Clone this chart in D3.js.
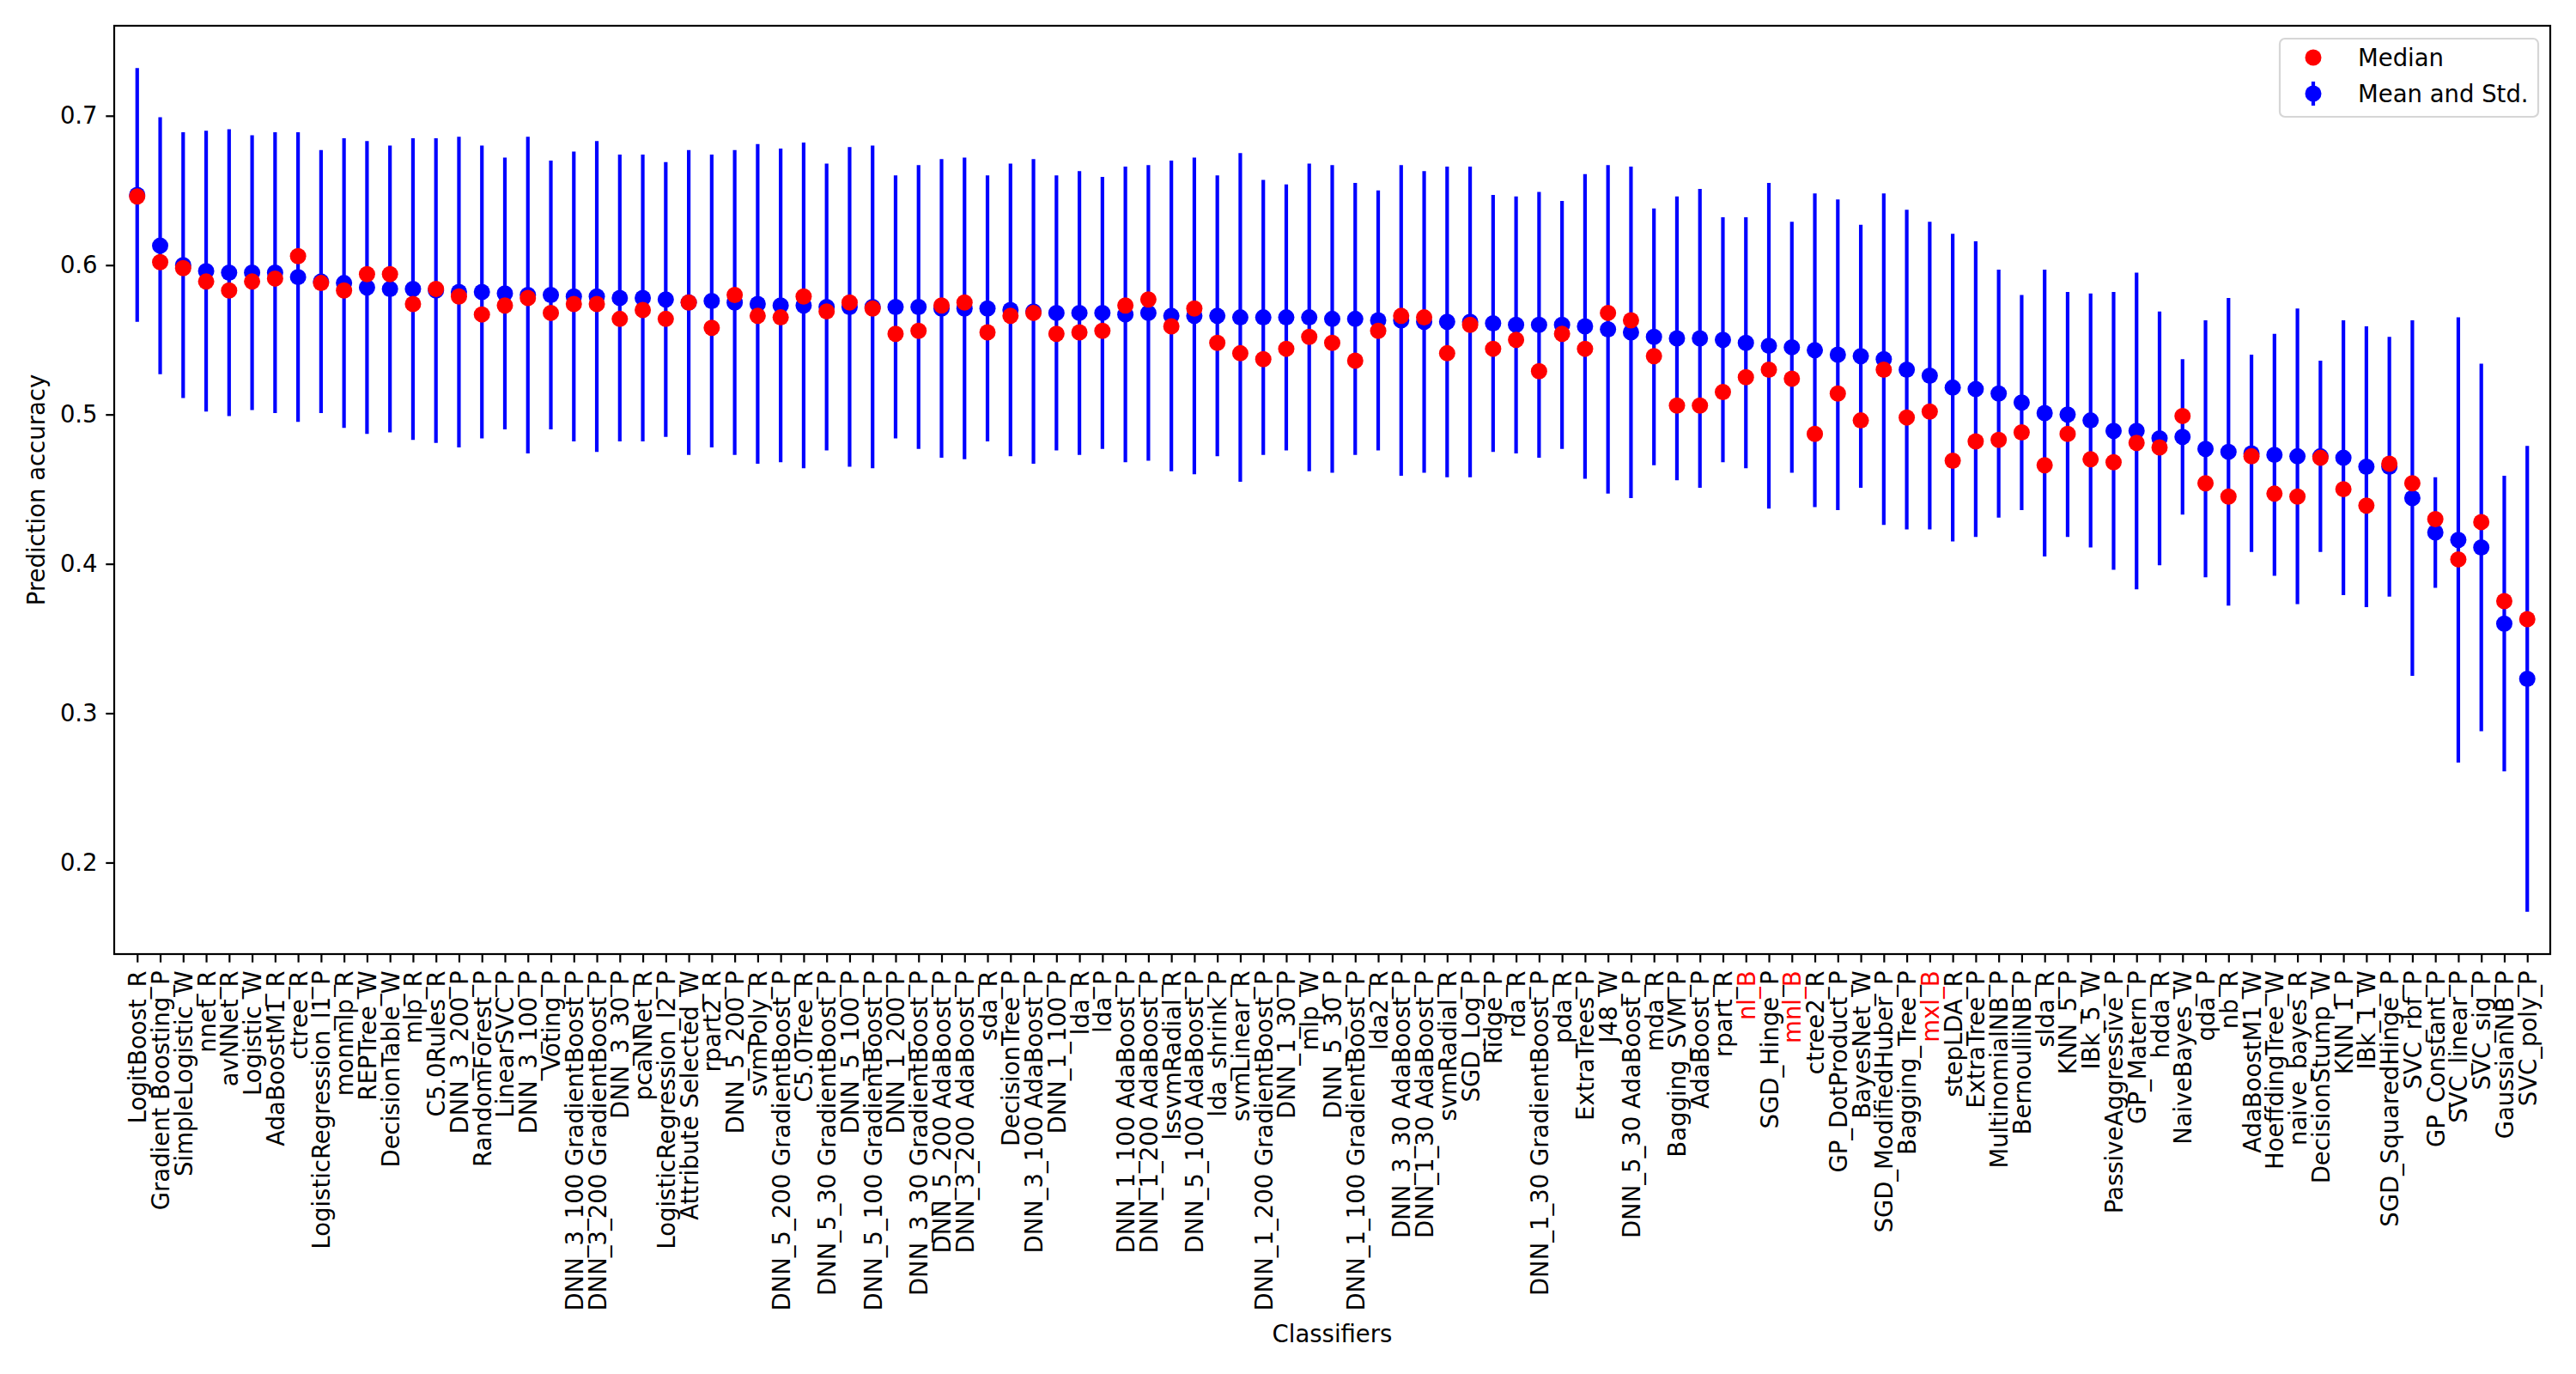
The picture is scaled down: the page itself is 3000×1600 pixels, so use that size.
<!DOCTYPE html>
<html>
<head>
<meta charset="utf-8">
<script src="https://cdn.jsdelivr.net/npm/d3@7"></script>
<style>
  body { margin: 0; background: #fff; }
  text { font-family: "DejaVu Sans", sans-serif; }
</style>
</head>
<body>
<div class="chart"></div>
<script>
// classifiers, sorted by mean accuracy
const classifiers = [
  'LogitBoost_R', 'Gradient Boosting_P', 'SimpleLogistic_W', 'nnet_R', 'avNNet_R',
  'Logistic_W', 'AdaBoostM1_R', 'ctree_R', 'LogisticRegression_l1_P', 'monmlp_R',
  'REPTree_W', 'DecisionTable_W', 'mlp_R', 'C5.0Rules_R', 'DNN_3_200_P',
  'RandomForest_P', 'LinearSVC_P', 'DNN_3_100_P', 'Voting_P', 'DNN_3_100 GradientBoost_P',
  'DNN_3_200 GradientBoost_P', 'DNN_3_30_P', 'pcaNNet_R', 'LogisticRegression_l2_P', 'Attribute Selected_W',
  'rpart2_R', 'DNN_5_200_P', 'svmPoly_R', 'DNN_5_200 GradientBoost_P', 'C5.0Tree_R',
  'DNN_5_30 GradientBoost_P', 'DNN_5_100_P', 'DNN_5_100 GradientBoost_P', 'DNN_1_200_P', 'DNN_3_30 GradientBoost_P',
  'DNN_5_200 AdaBoost_P', 'DNN_3_200 AdaBoost_P', 'sda_R', 'DecisionTree_P', 'DNN_3_100 AdaBoost_P',
  'DNN_1_100_P', 'lda_R', 'lda_P', 'DNN_1_100 AdaBoost_P', 'DNN_1_200 AdaBoost_P',
  'lssvmRadial_R', 'DNN_5_100 AdaBoost_P', 'lda_shrink_P', 'svmLinear_R', 'DNN_1_200 GradientBoost_P',
  'DNN_1_30_P', 'mlp_W', 'DNN_5_30_P', 'DNN_1_100 GradientBoost_P', 'lda2_R',
  'DNN_3_30 AdaBoost_P', 'DNN_1_30 AdaBoost_P', 'svmRadial_R', 'SGD_Log_P', 'Ridge_P',
  'rda_R', 'DNN_1_30 GradientBoost_P', 'pda_R', 'ExtraTrees_P', 'J48_W',
  'DNN_5_30 AdaBoost_P', 'mda_R', 'Bagging_SVM_P', 'AdaBoost_P', 'rpart_R',
  'nl_B', 'SGD_Hinge_P', 'mnl_B', 'ctree2_R', 'GP_DotProduct_P',
  'BayesNet_W', 'SGD_ModifiedHuber_P', 'Bagging_Tree_P', 'mxl_B', 'stepLDA_R',
  'ExtraTree_P', 'MultinomialNB_P', 'BernoulliNB_P', 'slda_R', 'KNN_5_P',
  'IBk_5_W', 'PassiveAggressive_P', 'GP_Matern_P', 'hdda_R', 'NaiveBayes_W',
  'qda_P', 'nb_R', 'AdaBoostM1_W', 'HoeffdingTree_W', 'naive_bayes_R',
  'DecisionStump_W', 'KNN_1_P', 'IBk_1_W', 'SGD_SquaredHinge_P', 'SVC_rbf_P',
  'GP_Constant_P', 'SVC_linear_P', 'SVC_sig_P', 'GaussianNB_P', 'SVC_poly_P'
];

const meanAcc = [
  0.647, 0.613, 0.600, 0.596, 0.595, 0.595, 0.595, 0.592, 0.589, 0.588,
  0.585, 0.584, 0.584, 0.583, 0.582, 0.582, 0.581, 0.580, 0.580, 0.579,
  0.579, 0.578, 0.578, 0.577, 0.575, 0.576, 0.575, 0.574, 0.573, 0.573,
  0.572, 0.572, 0.572, 0.572, 0.572, 0.571, 0.571, 0.571, 0.570, 0.569,
  0.568, 0.568, 0.568, 0.567, 0.568, 0.566, 0.566, 0.566, 0.565, 0.565,
  0.565, 0.565, 0.564, 0.564, 0.563, 0.563, 0.562, 0.562, 0.562, 0.561,
  0.560, 0.560, 0.560, 0.559, 0.557, 0.555, 0.552, 0.551, 0.551, 0.550,
  0.548, 0.546, 0.545, 0.543, 0.540, 0.539, 0.537, 0.530, 0.526, 0.518,
  0.517, 0.514, 0.508, 0.501, 0.500, 0.496, 0.489, 0.489, 0.484, 0.485,
  0.477, 0.475, 0.474, 0.473, 0.472, 0.472, 0.471, 0.465, 0.465, 0.444,
  0.421, 0.416, 0.411, 0.360, 0.323
];

const stdAcc = [
  0.085, 0.086, 0.089, 0.094, 0.096, 0.092, 0.094, 0.097, 0.088, 0.097,
  0.098, 0.096, 0.101, 0.102, 0.104, 0.098, 0.091, 0.106, 0.090, 0.097,
  0.104, 0.096, 0.096, 0.092, 0.102, 0.098, 0.102, 0.107, 0.105, 0.109,
  0.096, 0.107, 0.108, 0.088, 0.095, 0.100, 0.101, 0.089, 0.098, 0.102,
  0.092, 0.095, 0.091, 0.099, 0.099, 0.104, 0.106, 0.094, 0.110, 0.092,
  0.089, 0.103, 0.103, 0.091, 0.087, 0.104, 0.101, 0.104, 0.104, 0.086,
  0.086, 0.089, 0.083, 0.102, 0.110, 0.111, 0.086, 0.095, 0.100, 0.082,
  0.084, 0.109, 0.084, 0.105, 0.104, 0.088, 0.111, 0.107, 0.103, 0.103,
  0.099, 0.083, 0.072, 0.096, 0.082, 0.085, 0.093, 0.106, 0.085, 0.052,
  0.086, 0.103, 0.066, 0.081, 0.099, 0.064, 0.092, 0.094, 0.087, 0.119,
  0.037, 0.149, 0.123, 0.099, 0.156
];

const medianAcc = [
  0.646, 0.602, 0.598, 0.589, 0.583, 0.589, 0.591, 0.606, 0.588, 0.583,
  0.594, 0.594, 0.574, 0.584, 0.579, 0.567, 0.573, 0.578, 0.568, 0.574,
  0.574, 0.564, 0.570, 0.564, 0.575, 0.558, 0.580, 0.566, 0.565, 0.579,
  0.569, 0.575, 0.571, 0.554, 0.556, 0.573, 0.575, 0.555, 0.566, 0.568,
  0.554, 0.555, 0.556, 0.573, 0.577, 0.559, 0.571, 0.548, 0.541, 0.537,
  0.544, 0.552, 0.548, 0.536, 0.556, 0.566, 0.565, 0.541, 0.560, 0.544,
  0.550, 0.529, 0.554, 0.544, 0.568, 0.563, 0.539, 0.506, 0.506, 0.515,
  0.525, 0.530, 0.524, 0.487, 0.514, 0.496, 0.530, 0.498, 0.502, 0.469,
  0.482, 0.483, 0.488, 0.466, 0.487, 0.470, 0.468, 0.481, 0.478, 0.499,
  0.454, 0.445, 0.472, 0.447, 0.445, 0.471, 0.450, 0.439, 0.467, 0.454,
  0.430, 0.403, 0.428, 0.375, 0.363
];

// labels printed in red
const highlighted = ['nl_B', 'mnl_B', 'mxl_B'];

const yTicks = [0.2, 0.3, 0.4, 0.5, 0.6, 0.7];

const width = 3000;
const height = 1600;
const margin = { left: 133, right: 30, top: 30, bottom: 489 };
const fontSize = 27.5;
const tickLen = 9.7;

const data = classifiers.map((name, i) => ({
  name: name, i: i, mean: meanAcc[i], std: stdAcc[i], median: medianAcc[i]
}));

// y limits like matplotlib autoscale: data range plus 5% each side
const lo = d3.min(data, d => d.mean - d.std);
const hi = d3.max(data, d => d.mean + d.std);
const pad = (hi - lo) * 0.05;

const xScale = d3.scaleLinear()
  .domain([-1, classifiers.length])
  .range([margin.left, width - margin.right]);

const yScale = d3.scaleLinear()
  .domain([lo - pad, hi + pad])
  .range([height - margin.bottom, margin.top]);

const svg = d3.select('.chart')
  .append('svg')
  .attr('width', width)
  .attr('height', height)
  .style('background', '#fff');

// error bars
svg.append('g')
  .selectAll('line')
  .data(data)
  .join('line')
  .attr('x1', d => xScale(d.i))
  .attr('x2', d => xScale(d.i))
  .attr('y1', d => yScale(d.mean - d.std))
  .attr('y2', d => yScale(d.mean + d.std))
  .attr('stroke', 'blue')
  .attr('stroke-width', 4.2);

// mean points
svg.append('g')
  .selectAll('circle')
  .data(data)
  .join('circle')
  .attr('cx', d => xScale(d.i))
  .attr('cy', d => yScale(d.mean))
  .attr('r', 9.5)
  .attr('fill', 'blue');

// median points
svg.append('g')
  .selectAll('circle')
  .data(data)
  .join('circle')
  .attr('cx', d => xScale(d.i))
  .attr('cy', d => yScale(d.median))
  .attr('r', 9.5)
  .attr('fill', 'red');

// X Axis
const xAxis = d3.axisBottom(xScale)
  .tickValues(d3.range(classifiers.length))
  .tickFormat(i => classifiers[i])
  .tickSize(tickLen)
  .tickPadding(9.7)
  .tickSizeOuter(0);

const gx = svg.append('g')
  .attr('transform', `translate(0, ${height - margin.bottom})`)
  .call(xAxis);
gx.select('.domain').remove();
gx.selectAll('line').attr('stroke', '#000').attr('stroke-width', 2.2);
gx.selectAll('text')
  .attr('font-size', fontSize)
  .attr('font-family', '"DejaVu Sans", sans-serif')
  .attr('text-anchor', 'end')
  .attr('dominant-baseline', 'central')
  .attr('dy', null)
  .attr('y', 0)
  .attr('x', 0)
  .attr('transform', `translate(0, ${tickLen + 9.7}) rotate(-90)`)
  .attr('fill', (i) => highlighted.includes(classifiers[i]) ? 'red' : '#000');

// Y Axis
const yAxis = d3.axisLeft(yScale)
  .tickValues(yTicks)
  .tickFormat(d3.format('.1f'))
  .tickSize(tickLen)
  .tickPadding(9.7)
  .tickSizeOuter(0);

const gy = svg.append('g')
  .attr('transform', `translate(${margin.left}, 0)`)
  .call(yAxis);
gy.select('.domain').remove();
gy.selectAll('line').attr('stroke', '#000').attr('stroke-width', 2.2);
gy.selectAll('text')
  .attr('font-size', fontSize)
  .attr('font-family', '"DejaVu Sans", sans-serif')
  .attr('fill', '#000');

// frame
svg.append('rect')
  .attr('x', margin.left)
  .attr('y', margin.top)
  .attr('width', width - margin.left - margin.right)
  .attr('height', height - margin.top - margin.bottom)
  .attr('fill', 'none')
  .attr('stroke', '#000')
  .attr('stroke-width', 2.2);

// axis titles
svg.append('text')
  .attr('x', (margin.left + width - margin.right) / 2)
  .attr('y', 1563)
  .attr('text-anchor', 'middle')
  .attr('font-size', fontSize)
  .text('Classifiers');

svg.append('text')
  .attr('transform', `translate(42, ${(margin.top + height - margin.bottom) / 2}) rotate(-90)`)
  .attr('text-anchor', 'middle')
  .attr('dominant-baseline', 'central')
  .attr('font-size', fontSize)
  .text('Prediction accuracy');

// Legend
const legend = svg.append('g')
  .attr('transform', `translate(2655, 45)`);

legend.append('rect')
  .attr('width', 301)
  .attr('height', 91)
  .attr('rx', 6)
  .attr('fill', '#fff')
  .attr('fill-opacity', 0.8)
  .attr('stroke', '#d6d6d6')
  .attr('stroke-width', 2.2);

legend.append('circle')
  .attr('cx', 39).attr('cy', 22).attr('r', 9.5)
  .attr('fill', 'red');
legend.append('text')
  .attr('x', 91).attr('y', 22)
  .attr('dominant-baseline', 'central')
  .attr('font-size', fontSize)
  .text('Median');

legend.append('line')
  .attr('x1', 39).attr('x2', 39)
  .attr('y1', 50).attr('y2', 78)
  .attr('stroke', 'blue')
  .attr('stroke-width', 4.2);
legend.append('circle')
  .attr('cx', 39).attr('cy', 64).attr('r', 9.5)
  .attr('fill', 'blue');
legend.append('text')
  .attr('x', 91).attr('y', 64)
  .attr('dominant-baseline', 'central')
  .attr('font-size', fontSize)
  .text('Mean and Std.');
</script>
</body>
</html>
